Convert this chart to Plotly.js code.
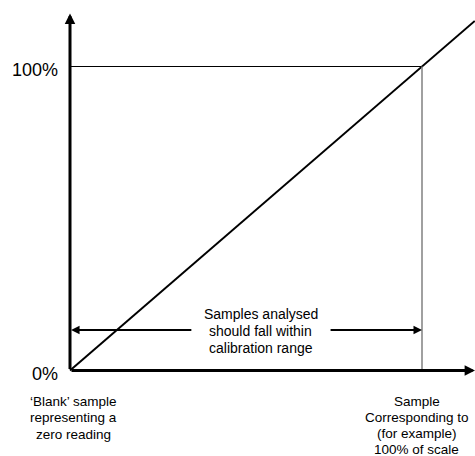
<!DOCTYPE html>
<html><head><meta charset="utf-8">
<script src="https://cdn.plot.ly/plotly-3.0.1.min.js"></script>
<style>html,body{margin:0;padding:0;background:#fff}#chart{width:475px;height:456px}</style>
</head><body><div id="chart"></div>
<script>
// ---- data ----
const responseX = [0, 115];          // sample level, % of scale
const responseY = [0, 115];          // instrument reading, % of scale
const tickVals = [0, 100];
const tickLabels = ['0%', '100%'];
const blankLabel = ["\u2018Blank\u2019 sample", "representing a", "zero reading"];
const fullLabel = ["Sample", "Corresponding to", "(for example)", "100% of scale"];
const rangeNote = ["Samples analysed", "should fall within", "calibration range"];
const rangeLevel = 13.3;             // height of the calibration-range arrow
const rangeGap = [34.9, 73.6];       // where the arrow breaks for the note
const axisEnd = [115.1, 117.4];      // x-axis tip, y-axis tip

// ---- chart ----
const FONT = 'Liberation Sans, Arial, sans-serif';
const traces = [{
  x: responseX, y: responseY, type: 'scatter', mode: 'lines',
  line: {color: '#000', width: 2}, hoverinfo: 'skip'
}];

const shapes = [
  {type: 'line', xref: 'x', yref: 'y', x0: tickVals[0], x1: tickVals[1], y0: tickVals[1], y1: tickVals[1],
   line: {color: '#000', width: 1}},
  {type: 'line', xref: 'x', yref: 'y', x0: tickVals[1], x1: tickVals[1], y0: tickVals[0], y1: tickVals[1],
   line: {color: '#808080', width: 1.5}}
];

function arrow(x, y, ax, ay, w, s) {
  return {x: x, y: y, ax: ax, ay: ay, xref: 'x', yref: 'y', axref: 'x', ayref: 'y',
          text: '', showarrow: true, arrowhead: 2, arrowwidth: w, arrowsize: s, arrowcolor: '#000'};
}
function textLine(t, x, y, xshift, yshift, size, xanchor) {
  return {x: x, y: y, xref: 'x', yref: 'y', text: t, showarrow: false,
          xanchor: xanchor || 'center', yanchor: 'middle', xshift: xshift, yshift: yshift,
          font: {family: FONT, size: size, color: '#000'}};
}

const annotations = [
  arrow(0, axisEnd[1], 0, 0, 3, 0.7),
  arrow(axisEnd[0], 0, 0, 0, 3, 0.7),
  arrow(0.3, rangeLevel, rangeGap[0], rangeLevel, 2, 0.85),
  arrow(tickVals[1], rangeLevel, rangeGap[1], rangeLevel, 2, 0.85),
  textLine(tickLabels[0], tickVals[0], tickVals[0], -10, -3, 18, 'right'),
  textLine(tickLabels[1], tickVals[0], tickVals[1], -10, -3, 18, 'right')
];
blankLabel.forEach((t, i) => annotations.push(textLine(t, tickVals[0], tickVals[0], 3.5, -(31.2 + i * 16.2), 13.5)));
fullLabel.forEach((t, i) => annotations.push(textLine(t, tickVals[1], tickVals[0], -5.5, -(31.2 + i * 15.8), 13.5)));
const mid = (rangeGap[0] + rangeGap[1]) / 2;
rangeNote.forEach((t, i) => annotations.push(textLine(t, mid, rangeLevel, 0, -(0.7 + (i - 1) * 17), 14)));

const layout = {
  width: 475, height: 456, margin: {l: 0, r: 0, t: 0, b: 0},
  paper_bgcolor: '#fff', plot_bgcolor: '#fff', showlegend: false, hovermode: false,
  xaxis: {range: [-19.886, 115.057], visible: false, fixedrange: true},
  yaxis: {range: [-28.125, 121.875], visible: false, fixedrange: true},
  shapes: shapes, annotations: annotations
};

Plotly.newPlot('chart', traces, layout, {staticPlot: true, displayModeBar: false});
</script></body></html>
